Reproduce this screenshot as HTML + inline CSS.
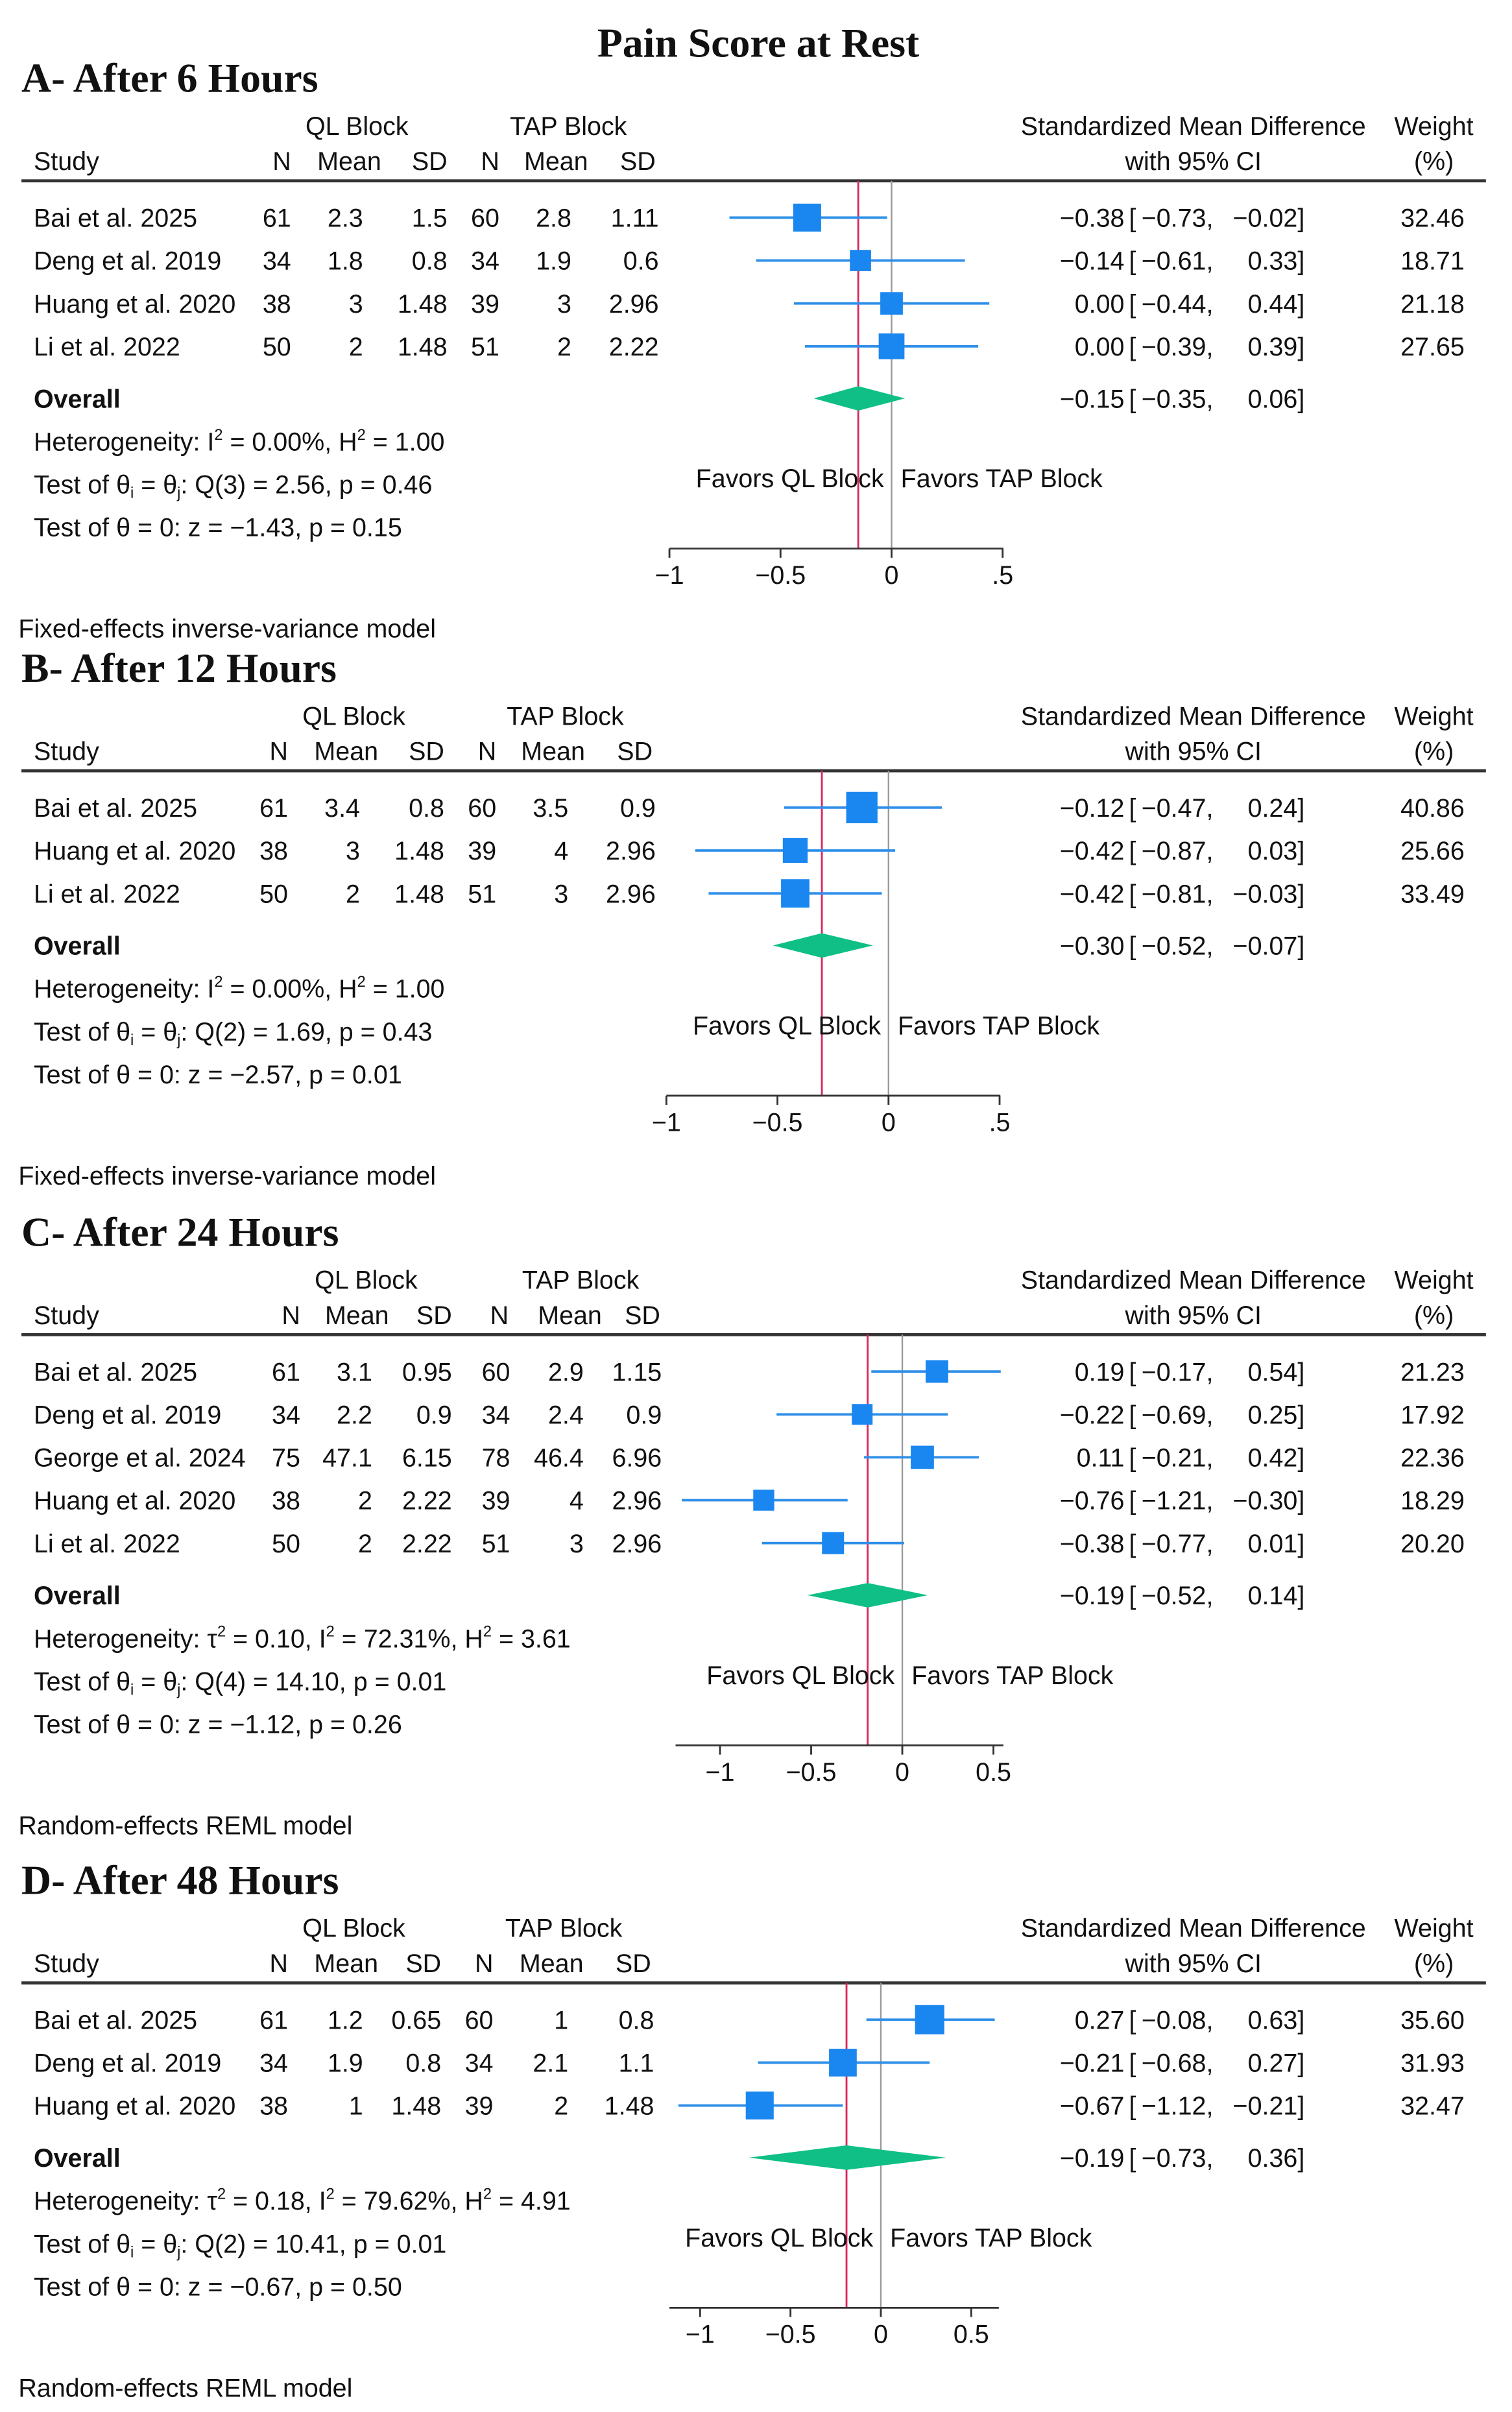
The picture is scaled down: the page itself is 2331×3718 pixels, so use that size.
<!DOCTYPE html>
<html><head><meta charset="utf-8"><style>
html,body{margin:0;padding:0;background:#fff}
svg{display:block}
text{font-family:"Liberation Sans",sans-serif;font-size:16.7px;fill:#111}
.serif{font-family:"Liberation Serif",serif;font-weight:bold;font-size:27px}
</style></head><body>
<svg id="chart" width="2331" height="3718" viewBox="0 0 987 1574" preserveAspectRatio="none" xmlns="http://www.w3.org/2000/svg">
<text class="serif" x="495" y="37" text-anchor="middle">Pain Score at Rest</text>
</svg>
<script>
// Panel A data
const studiesA=["Bai et al. 2025","Deng et al. 2019","Huang et al. 2020","Li et al. 2022"];
const tableA=[["61","2.3","1.5","60","2.8","1.11"],["34","1.8","0.8","34","1.9","0.6"],["38","3","1.48","39","3","2.96"],["50","2","1.48","51","2","2.22"]];
const smdA=[-0.38,-0.14,0.00,0.00];
const loA=[-0.73,-0.61,-0.44,-0.39];
const hiA=[-0.02,0.33,0.44,0.39];
const weightA=[32.46,18.71,21.18,27.65];
const overallA=[-0.15,-0.35,0.06];
const ticksA=[-1,-0.5,0,0.5];
const tickLabelsA=["−1","−0.5","0",".5"];
// Panel B data
const studiesB=["Bai et al. 2025","Huang et al. 2020","Li et al. 2022"];
const tableB=[["61","3.4","0.8","60","3.5","0.9"],["38","3","1.48","39","4","2.96"],["50","2","1.48","51","3","2.96"]];
const smdB=[-0.12,-0.42,-0.42];
const loB=[-0.47,-0.87,-0.81];
const hiB=[0.24,0.03,-0.03];
const weightB=[40.86,25.66,33.49];
const overallB=[-0.30,-0.52,-0.07];
const ticksB=[-1,-0.5,0,0.5];
const tickLabelsB=["−1","−0.5","0",".5"];
// Panel C data
const studiesC=["Bai et al. 2025","Deng et al. 2019","George et al. 2024","Huang et al. 2020","Li et al. 2022"];
const tableC=[["61","3.1","0.95","60","2.9","1.15"],["34","2.2","0.9","34","2.4","0.9"],["75","47.1","6.15","78","46.4","6.96"],["38","2","2.22","39","4","2.96"],["50","2","2.22","51","3","2.96"]];
const smdC=[0.19,-0.22,0.11,-0.76,-0.38];
const loC=[-0.17,-0.69,-0.21,-1.21,-0.77];
const hiC=[0.54,0.25,0.42,-0.30,0.01];
const weightC=[21.23,17.92,22.36,18.29,20.20];
const overallC=[-0.19,-0.52,0.14];
const ticksC=[-1,-0.5,0,0.5];
const tickLabelsC=["−1","−0.5","0","0.5"];
// Panel D data
const studiesD=["Bai et al. 2025","Deng et al. 2019","Huang et al. 2020"];
const tableD=[["61","1.2","0.65","60","1","0.8"],["34","1.9","0.8","34","2.1","1.1"],["38","1","1.48","39","2","1.48"]];
const smdD=[0.27,-0.21,-0.67];
const loD=[-0.08,-0.68,-1.12];
const hiD=[0.63,0.27,-0.21];
const weightD=[35.60,31.93,32.47];
const overallD=[-0.19,-0.73,0.36];
const ticksD=[-1,-0.5,0,0.5];
const tickLabelsD=["−1","−0.5","0","0.5"];

const NS="http://www.w3.org/2000/svg";
const svg=document.getElementById('chart');
function el(tag,attrs,parent,txt){const e=document.createElementNS(NS,tag);for(const k in attrs)e.setAttribute(k,attrs[k]);if(txt!==undefined)e.textContent=txt;(parent||svg).appendChild(e);return e;}
function fmt(v){return (v<0?"−":"")+Math.abs(v).toFixed(2);}
function ciText(parent,y,a,b,c){
  el('text',{x:734,y:y,'text-anchor':'end'},parent,fmt(a));
  el('text',{x:737,y:y},parent,'[');
  el('text',{x:792,y:y,'text-anchor':'end'},parent,fmt(b)+',');
  el('text',{x:847,y:y,'text-anchor':'end'},parent,fmt(c));
  el('text',{x:847,y:y},parent,']');
}

function panel(p){
  const g=el('g',{});
  
  
  const sx=v=>p.x0+v*p.unit;
  let t=el('text',{x:14,y:p.top,class:'serif'},g,p.title);
  
  
  const h1=p.top+28,h2=p.top+51,line=p.top+58;
  const c=p.cols;
  el('text',{x:c.ql,y:h1,'text-anchor':'middle'},g,'QL Block');
  el('text',{x:c.tap,y:h1,'text-anchor':'middle'},g,'TAP Block');
  el('text',{x:779,y:h1,'text-anchor':'middle'},g,'Standardized Mean Difference');
  el('text',{x:936,y:h1,'text-anchor':'middle'},g,'Weight');
  el('text',{x:22,y:h2},g,'Study');
  const heads=['N','Mean','SD','N','Mean','SD'];
  heads.forEach((h,i)=>el('text',{x:c.h[i],y:h2,'text-anchor':(i==1||i==4)?'middle':'end'},g,h));
  el('text',{x:779,y:h2,'text-anchor':'middle'},g,'with 95% CI');
  el('text',{x:936,y:h2,'text-anchor':'middle'},g,'(%)');
  const hl=el('line',{x1:14,x2:970,y1:line,y2:line,stroke:'#333','stroke-width':2},g);
  
  
  const rowY=i=>line+24+i*28;
  const n=p.studies.length;
  const ovY=rowY(n-1)+34;
  const axY=ovY+98;
  el('line',{x1:sx(0),x2:sx(0),y1:line,y2:axY,stroke:'#999','stroke-width':1},g);
  const rl=el('line',{x1:sx(p.overall[0]),x2:sx(p.overall[0]),y1:line,y2:axY,stroke:'#d8285a','stroke-width':1.2},g);
  
  
  p.studies.forEach((s,i)=>{
    const y=rowY(i);
    const r=el('g',{},g);
    
    
    el('text',{x:22,y:y+6},r,s);
    p.table[i].forEach((v,j)=>el('text',{x:c.c[j],y:y+6,'text-anchor':'end'},r,v));
    const ln=el('line',{x1:sx(p.lo[i]),x2:sx(p.hi[i]),y1:y,y2:y,stroke:'#2f8fe8','stroke-width':1.6},r);
    
    
    const sz=3.2*Math.sqrt(p.weight[i]);
    const sq=el('rect',{x:sx(p.smd[i])-sz/2,y:y-sz/2,width:sz,height:sz,fill:'#1a86f0'},r);
    
    
    ciText(r,y+6,p.smd[i],p.lo[i],p.hi[i]);
    el('text',{x:956,y:y+6,'text-anchor':'end'},r,p.weight[i].toFixed(2));
  });
  el('text',{x:22,y:ovY+6,'font-weight':'bold'},g,'Overall');
  const o=p.overall;
  const d=el('polygon',{points:`${sx(o[1])},${ovY} ${sx(o[0])},${ovY-8} ${sx(o[2])},${ovY} ${sx(o[0])},${ovY+8}`,fill:'#0fbf86'},g);
  
  
  ciText(g,ovY+6,o[0],o[1],o[2]);
  const het=el('text',{x:22,y:ovY+34},g);
  het.innerHTML=p.het;
  const q=el('text',{x:22,y:ovY+62},g);
  q.innerHTML='Test of θ<tspan font-size="10" dy="3">i</tspan><tspan dy="-3"> = θ</tspan><tspan font-size="10" dy="3">j</tspan><tspan dy="-3">: '+p.q+'</tspan>';
  el('text',{x:22,y:ovY+90},g,p.z);
  el('text',{x:sx(0)-5,y:ovY+58,'text-anchor':'end'},g,'Favors QL Block');
  el('text',{x:sx(0)+6,y:ovY+58},g,'Favors TAP Block');
  const ax=el('line',{x1:p.axL,x2:p.axR,y1:axY,y2:axY,stroke:'#333','stroke-width':1.2},g);
  
  
  p.ticks.forEach((tv,i)=>{
    el('line',{x1:sx(tv),x2:sx(tv),y1:axY,y2:axY+6,stroke:'#333','stroke-width':1.2},g);
    const tl=el('text',{x:sx(tv),y:axY+23,'text-anchor':'middle'},g,p.tickLabels[i]);
    
    
  });
  el('text',{x:12,y:axY+58},g,p.model);
}
panel({id:'a',title:'A- After 6 Hours',top:60,cols:{ql:233,tap:371,h:[190,228,292,326,363,428],c:[190,237,292,326,373,430]},studies:studiesA,table:tableA,smd:smdA,lo:loA,hi:hiA,weight:weightA,overall:overallA,ticks:ticksA,tickLabels:tickLabelsA,x0:582,unit:145,axL:437,axR:655,
 het:'Heterogeneity: I<tspan font-size="10" dy="-7">2</tspan><tspan dy="7"> = 0.00%, H</tspan><tspan font-size="10" dy="-7">2</tspan><tspan dy="7"> = 1.00</tspan>',q:'Q(3) = 2.56, p = 0.46',z:'Test of θ = 0: z = −1.43, p = 0.15',model:'Fixed-effects inverse-variance model'});
panel({id:'b',title:'B- After 12 Hours',top:445,cols:{ql:231,tap:369,h:[188,226,290,324,361,426],c:[188,235,290,324,371,428]},studies:studiesB,table:tableB,smd:smdB,lo:loB,hi:hiB,weight:weightB,overall:overallB,ticks:ticksB,tickLabels:tickLabelsB,x0:580,unit:145,axL:435,axR:653,
 het:'Heterogeneity: I<tspan font-size="10" dy="-7">2</tspan><tspan dy="7"> = 0.00%, H</tspan><tspan font-size="10" dy="-7">2</tspan><tspan dy="7"> = 1.00</tspan>',q:'Q(2) = 1.69, p = 0.43',z:'Test of θ = 0: z = −2.57, p = 0.01',model:'Fixed-effects inverse-variance model'});
panel({id:'c',title:'C- After 24 Hours',top:813,cols:{ql:239,tap:379,h:[196,233,295,332,372,431],c:[196,243,295,333,381,432]},studies:studiesC,table:tableC,smd:smdC,lo:loC,hi:hiC,weight:weightC,overall:overallC,ticks:ticksC,tickLabels:tickLabelsC,x0:589,unit:119,axL:441,axR:655,
 het:'Heterogeneity: τ<tspan font-size="10" dy="-7">2</tspan><tspan dy="7"> = 0.10, I</tspan><tspan font-size="10" dy="-7">2</tspan><tspan dy="7"> = 72.31%, H</tspan><tspan font-size="10" dy="-7">2</tspan><tspan dy="7"> = 3.61</tspan>',q:'Q(4) = 14.10, p = 0.01',z:'Test of θ = 0: z = −1.12, p = 0.26',model:'Random-effects REML model'});
panel({id:'d',title:'D- After 48 Hours',top:1236,cols:{ql:231,tap:368,h:[188,226,288,322,360,425],c:[188,237,288,322,371,427]},studies:studiesD,table:tableD,smd:smdD,lo:loD,hi:hiD,weight:weightD,overall:overallD,ticks:ticksD,tickLabels:tickLabelsD,x0:575,unit:118,axL:437,axR:652,
 het:'Heterogeneity: τ<tspan font-size="10" dy="-7">2</tspan><tspan dy="7"> = 0.18, I</tspan><tspan font-size="10" dy="-7">2</tspan><tspan dy="7"> = 79.62%, H</tspan><tspan font-size="10" dy="-7">2</tspan><tspan dy="7"> = 4.91</tspan>',q:'Q(2) = 10.41, p = 0.01',z:'Test of θ = 0: z = −0.67, p = 0.50',model:'Random-effects REML model'});
</script>
</body></html>
